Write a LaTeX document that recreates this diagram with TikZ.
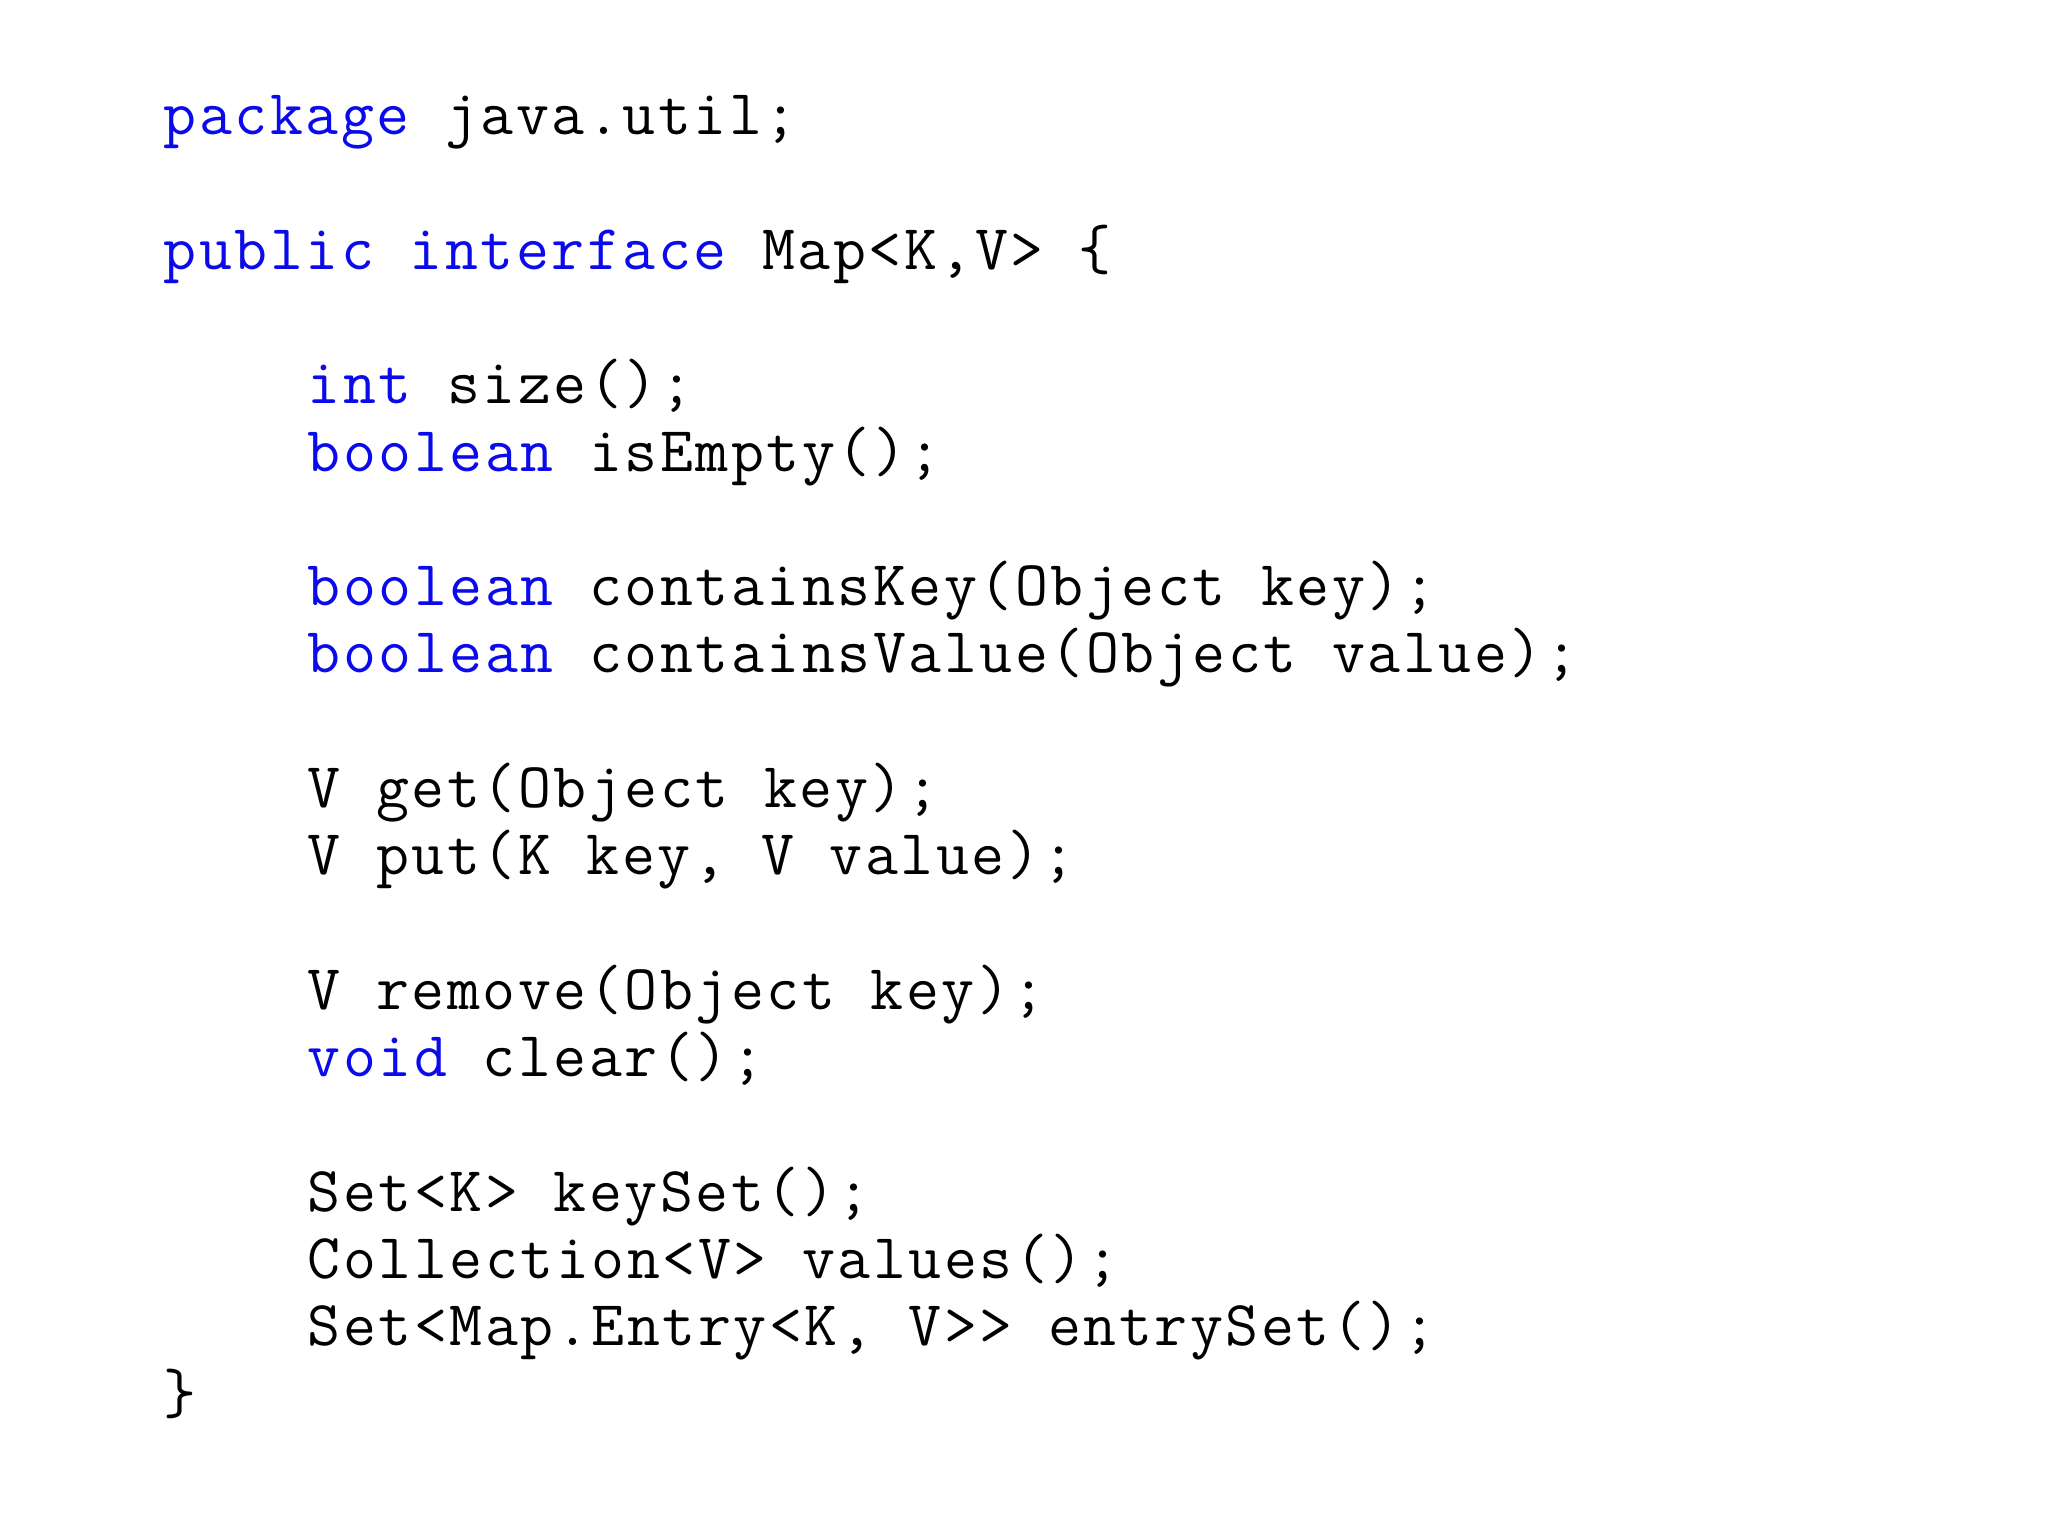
\documentclass[tikz,border=0pt]{standalone}
\usepackage{fontspec}
\setmonofont[LetterSpace=4]{Latin Modern Mono}
\definecolor{kw}{RGB}{10,10,235}
\tikzset{code/.style={anchor=base west,inner sep=0pt,font=\fontsize{18.2}{20}\selectfont\ttfamily}}
\newcommand{\kw}[1]{\textcolor{kw}{#1}}
\begin{document}
\begin{tikzpicture}
\useasboundingbox (0,0) rectangle (20.48,-15.36);
\def\lx{1.63}\def\ix{3.07}
\newcommand{\lyy}[1]{-1.345-0.673*#1}
\node[code] (l0) at (\lx,{\lyy{0}}) {\kw{package} java.util;};
\node[code] (l2) at (\lx,{\lyy{2}}) {\kw{public} \kw{interface} Map<K,V> \{};
\node[code] (l4) at (\ix,{\lyy{4}}) {\kw{int} size();};
\node[code] (l5) at (\ix,{\lyy{5}}) {\kw{boolean} isEmpty();};
\node[code] (l7) at (\ix,{\lyy{7}}) {\kw{boolean} containsKey(Object key);};
\node[code] (l8) at (\ix,{\lyy{8}}) {\kw{boolean} containsValue(Object value);};
\node[code] (l10) at (\ix,{\lyy{10}}) {V get(Object key);};
\node[code] (l11) at (\ix,{\lyy{11}}) {V put(K key, V value);};
\node[code] (l13) at (\ix,{\lyy{13}}) {V remove(Object key);};
\node[code] (l14) at (\ix,{\lyy{14}}) {\kw{void} clear();};
\node[code] (l16) at (\ix,{\lyy{16}}) {Set<K> keySet();};
\node[code] (l17) at (\ix,{\lyy{17}}) {Collection<V> values();};
\node[code] (l18) at (\ix,{\lyy{18}}) {Set<Map.Entry<K, V>> entrySet();};
\node[code] (l19) at (\lx,{\lyy{19}}) {\}};
\end{tikzpicture}
\end{document}
